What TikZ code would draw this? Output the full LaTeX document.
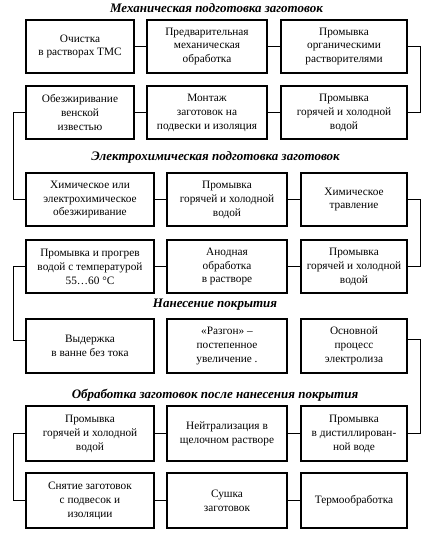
\documentclass[tikz,border=0pt]{standalone}
\usepackage{fontspec}
\setmainfont{Liberation Serif}
\usetikzlibrary{calc}
\begin{document}
\begin{tikzpicture}[x=1pt,y=-1pt,
  box/.style={draw, line width=1.1pt, align=center, inner sep=0pt, font=\fontsize{11.3}{13.9}\selectfont},
  wa/.style={box, minimum width=108pt},
  wb/.style={box, minimum width=120pt},
  wc/.style={box, minimum width=126pt},
  wd/.style={box, minimum width=128pt},
  we/.style={box, minimum width=106pt},
  title/.style={font=\fontsize{13}{15}\selectfont\bfseries\itshape, inner sep=0pt},
  link/.style={line width=0.9pt}]
\useasboundingbox (0,0) rectangle (445,544);
% titles
\node[title] (t1) at (216.5,8) {Механическая подготовка заготовок};
\node[title] (t2) at (215.5,157) {Электрохимическая подготовка заготовок};
\node[title] (t3) at (215,305) {Нанесение покрытия};
\node[title] (t4) at (215,395) {Обработка заготовок после нанесения покрытия};
% row 1
\node[wa, minimum height=53pt] (a1) at (80,46.5) {Очистка\\в растворах ТМС};
\node[wb, minimum height=53pt] (a2) at (207,46.5) {Предварительная\\механическая\\обработка};
\node[wc, minimum height=53pt] (a3) at (344,46.5) {Промывка\\органическими\\растворителями};
% row 2
\node[wa, minimum height=53pt] (b1) at (80,112.5) {Обезжиривание\\венской\\известью};
\node[wb, minimum height=53pt] (b2) at (207,112.5) {Монтаж\\заготовок на\\подвески и изоляция};
\node[wc, minimum height=53pt] (b3) at (344,112.5) {Промывка\\горячей и холодной\\водой};
% row 3
\node[wd, minimum height=53pt] (c1) at (90,199.5) {Химическое или\\электрохимическое\\обезжиривание};
\node[wb, minimum height=53pt] (c2) at (227,199.5) {Промывка\\горячей и холодной\\водой};
\node[we, minimum height=53pt] (c3) at (354,199.5) {Химическое\\травление};
% row 4
\node[wd, minimum height=53pt] (d1) at (90,266.5) {Промывка и прогрев\\водой с температурой\\55…60 °C};
\node[wb, minimum height=53pt] (d2) at (227,266.5) {Анодная\\обработка\\в растворе};
\node[we, minimum height=53pt] (d3) at (354,266.5) {Промывка\\горячей и холодной\\водой};
% row 5
\node[wd, minimum height=54pt] (e1) at (90,346) {Выдержка\\в ванне без тока};
\node[wb, minimum height=54pt] (e2) at (227,346) {«Разгон» –\\постепенное\\увеличение .};
\node[we, minimum height=54pt] (e3) at (354,346) {Основной\\процесс\\электролиза};
% row 6
\node[wd, minimum height=55pt] (f1) at (90,433.5) {Промывка\\горячей и холодной\\водой};
\node[wb, minimum height=55pt] (f2) at (227,433.5) {Нейтрализация в\\щелочном растворе};
\node[we, minimum height=55pt] (f3) at (354,433.5) {Промывка\\в дистиллирован-\\ной воде};
% row 7
\node[wd, minimum height=55pt] (g1) at (90,500.5) {Снятие заготовок\\с подвесок и\\изоляции};
\node[wb, minimum height=55pt] (g2) at (227,500.5) {Сушка\\заготовок};
\node[we, minimum height=55pt] (g3) at (354,500.5) {Термообработка};
% horizontal links
\draw[link] (a1) -- (a2); \draw[link] (a2) -- (a3);
\draw[link] (b1) -- (b2); \draw[link] (b2) -- (b3);
\draw[link] (c1) -- (c2); \draw[link] (c2) -- (c3);
\draw[link] (d1) -- (d2); \draw[link] (d2) -- (d3);
\draw[link] (f1) -- (f2); \draw[link] (f2) -- (f3);
\draw[link] (g1) -- (g2); \draw[link] (g2) -- (g3);
% vertical links
\draw[link] (a3.east) -- ++(13,0) |- (b3.east);
\draw[link] (b1.west) -- ++(-12,0) |- (c1.west);
\draw[link] (c3.east) -- ++(13,0) |- (d3.east);
\draw[link] (d1.west) -- ++(-12,0) |- ($(e1.west)+(0,-6)$);
\draw[link] ($(e3.east)+(0,-7)$) -- ++(13,0) |- (f3.east);
\draw[link] (f1.west) -- ++(-12,0) |- (g1.west);
\end{tikzpicture}
\end{document}
